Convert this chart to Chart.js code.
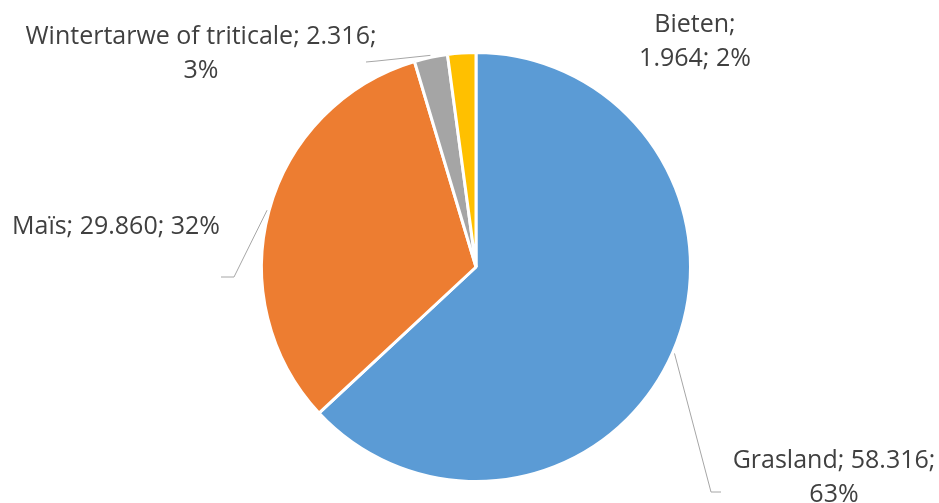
<!DOCTYPE html>
<html>
<head>
<meta charset="utf-8">
<script src="https://cdn.jsdelivr.net/npm/chart.js@4/dist/chart.umd.min.js"></script>
<style>
  html, body { margin: 0; padding: 0; background: #fff; }
  #wrap { width: 939px; height: 503px; }
</style>
</head>
<body>
<div id="wrap"><canvas id="pie"></canvas></div>
<script>
// data
const categories = ["Grasland", "Maïs", "Wintertarwe of triticale", "Bieten"];
const values = [58316, 29860, 2316, 1964];
const valueLabels = ["58.316", "29.860", "2.316", "1.964"];
const percentLabels = ["63%", "32%", "3%", "2%"];
const colors = ["#5B9BD5", "#ED7D31", "#A5A5A5", "#FFC000"];

// where each label sits (lines of text, centre x, first baseline) and leader elbows
const labelLayout = [
  { lines: (i) => [categories[i] + "; " + valueLabels[i] + ";", percentLabels[i]], x: 834, y: 468, align: "center", elbow: [711, 492], end: [721, 492] },
  { lines: (i) => [categories[i] + "; " + valueLabels[i] + "; " + percentLabels[i]], x: 12, y: 234, align: "left", elbow: [234, 277], end: [221, 277] },
  { lines: (i) => [categories[i] + "; " + valueLabels[i] + ";", percentLabels[i]], x: 201, y: 44, align: "center", elbow: [377, 61], end: [366, 62] },
  { lines: (i) => [categories[i] + ";", valueLabels[i] + "; " + percentLabels[i]], x: 695, y: 32, align: "center", elbow: null }
];

const labelPlugin = {
  id: "outsideLabels",
  afterDatasetsDraw(chart) {
    const ctx = chart.ctx;
    const meta = chart.getDatasetMeta(0);
    ctx.save();
    meta.data.forEach((arc, i) => {
      const lay = labelLayout[i];
      const { x, y, startAngle, endAngle, outerRadius } = arc.getProps(["x", "y", "startAngle", "endAngle", "outerRadius"], true);
      if (lay.elbow) {
        const mid = (startAngle + endAngle) / 2;
        const sx = x + Math.cos(mid) * (outerRadius + 2);
        const sy = y + Math.sin(mid) * (outerRadius + 2);
        ctx.beginPath();
        ctx.strokeStyle = "#A6A6A6";
        ctx.lineWidth = 1;
        ctx.moveTo(sx, sy);
        ctx.lineTo(lay.elbow[0], lay.elbow[1]);
        ctx.lineTo(lay.end[0], lay.end[1]);
        ctx.stroke();
      }
      ctx.fillStyle = "#404040";
      ctx.font = "25px 'Open Sans', 'Liberation Sans', sans-serif";
      ctx.textAlign = lay.align;
      ctx.textBaseline = "alphabetic";
      lay.lines(i).forEach((t, k) => {
        ctx.fillText(t, lay.x, lay.y + k * 34);
      });
    });
    ctx.restore();
  }
};

new Chart(document.getElementById("pie"), {
  type: "pie",
  data: {
    labels: categories,
    datasets: [{
      data: values,
      backgroundColor: colors,
      borderColor: "#ffffff",
      borderWidth: 3
    }]
  },
  options: {
    responsive: true,
    maintainAspectRatio: false,
    animation: false,
    layout: { padding: { top: 51, bottom: 20, left: 260, right: 247 } },
    plugins: {
      legend: { display: false },
      tooltip: { enabled: false }
    }
  },
  plugins: [labelPlugin]
});
</script>
</body>
</html>
